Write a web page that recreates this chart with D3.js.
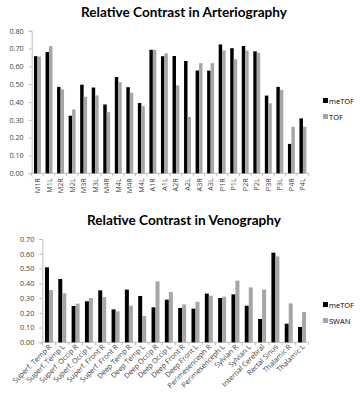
<!DOCTYPE html>
<html>
<head>
<meta charset="utf-8">
<script src="https://cdn.jsdelivr.net/npm/d3@7"></script>
<style>
  body { margin: 0; background: #fff; }
  .chartTitle { font-family: Lato, "Open Sans", sans-serif; font-weight: bold; font-size: 13.6px; fill: #000; }
  .tick text { font-family: "Open Sans", sans-serif; font-size: 7.2px; fill: #404040; }
  .legendText { font-family: "Open Sans", sans-serif; font-size: 7.5px; fill: #000; }
</style>
</head>
<body>
<div id="chart"></div>
<script>
// ---- data ----
const arteryLabels = ["M1R","M1L","M2R","M2L","M3R","M3L","M4R","M4L","M4R","M4L",
    "A1R","A1L","A2R","A2L","A3R","A3L","P1R","P1L","P2R","P2L","P3R","P3L","P4R","P4L"];
const arteryMeTOF = [0.657,0.680,0.485,0.323,0.497,0.481,0.386,0.540,0.483,0.394,
    0.693,0.657,0.658,0.630,0.577,0.576,0.723,0.702,0.714,0.684,0.436,0.485,0.165,0.308];
const arteryTOF = [0.655,0.714,0.471,0.358,0.429,0.437,0.343,0.511,0.452,0.377,
    0.693,0.673,0.493,0.316,0.618,0.618,0.689,0.640,0.689,0.676,0.393,0.468,0.261,0.261];
const arteryTicks = [0,0.1,0.2,0.3,0.4,0.5,0.6,0.7,0.8];

const veinLabels = ["Superf. Temp R","Superf. Temp L","Superf. Occip R","Superf. Occip L",
    "Superf. Front R","Superf. Front R","Deep Temp R","Deep Temp L","Deep Occip R","Deep Occip L",
    "Deep Front R","Deep Front L","Perimesenceph R","Perimesenceph L","Sylvian R","Sylvian L",
    "Internal Cerebral","Rectal Sinus","Thalamic R","Thalamic L"];
const veinMeTOF = [0.508,0.429,0.246,0.278,0.352,0.223,0.357,0.314,0.237,0.289,
    0.233,0.228,0.330,0.300,0.325,0.248,0.158,0.607,0.126,0.104];
const veinSWAN = [0.354,0.332,0.262,0.300,0.307,0.210,0.248,0.178,0.413,0.341,
    0.257,0.275,0.316,0.309,0.418,0.372,0.357,0.582,0.264,0.205];
const veinTicks = [0,0.1,0.2,0.3,0.4,0.5,0.6,0.7];

const colors = {black: "#000000", gray: "#a6a6a6", axis: "#bfbfbf"};

const width = 362;
const height = 400;

const svg = d3.select("#chart")
    .append("svg")
    .attr("width", width)
    .attr("height", height);

function drawChart(opt) {
    const g = svg.append("g");

    const xScale = d3.scaleBand()
        .domain(d3.range(opt.labels.length))
        .range([opt.left, opt.right]);

    const yScale = d3.scaleLinear()
        .domain([0, opt.yMax])
        .range([opt.bottom, opt.top]);

    const bw = xScale.bandwidth();
    const barW = bw * 0.3;
    const offset = (bw - 2 * barW) / 2;

    // title
    g.append("text")
        .attr("class", "chartTitle")
        .attr("x", opt.titleX)
        .attr("y", opt.titleY)
        .attr("text-anchor", "middle")
        .text(opt.title);

    // y axis
    const yAxis = g.append("g")
        .attr("transform", `translate(${opt.left},0)`)
        .call(d3.axisLeft(yScale)
            .tickValues(opt.ticks)
            .tickSize(3)
            .tickPadding(5)
            .tickFormat(d3.format(".2f")));
    yAxis.select(".domain").attr("stroke", colors.axis);
    yAxis.selectAll(".tick line").attr("stroke", colors.axis);

    // x axis (ticks at category boundaries)
    const xAxis = g.append("g")
        .attr("transform", `translate(0,${opt.bottom})`);
    xAxis.append("line")
        .attr("x1", opt.left).attr("x2", opt.right)
        .attr("stroke", colors.axis);
    xAxis.selectAll(".xtick")
        .data(d3.range(opt.labels.length + 1))
        .enter()
        .append("line")
        .attr("x1", i => i < opt.labels.length ? xScale(i) : opt.right)
        .attr("x2", i => i < opt.labels.length ? xScale(i) : opt.right)
        .attr("y1", 0).attr("y2", 3)
        .attr("stroke", colors.axis);

    xAxis.selectAll(".xLabel")
        .data(opt.labels)
        .enter()
        .append("text")
        .attr("class", "xLabel")
        .attr("text-anchor", "end")
        .attr("transform", (d, i) => `translate(${xScale(i) + bw / 2 + opt.labelDx},${opt.labelDy}) rotate(${opt.rotate})`)
        .style("font-family", "'Open Sans', sans-serif")
        .style("font-size", "7.2px")
        .attr("fill", "#404040")
        .text(d => d);

    // bars
    g.selectAll(".barA")
        .data(opt.s1)
        .enter()
        .append("rect")
        .attr("x", (d, i) => xScale(i) + offset)
        .attr("y", d => yScale(d))
        .attr("width", barW)
        .attr("height", d => yScale(0) - yScale(d))
        .attr("fill", colors.black);

    g.selectAll(".barB")
        .data(opt.s2)
        .enter()
        .append("rect")
        .attr("x", (d, i) => xScale(i) + offset + barW)
        .attr("y", d => yScale(d))
        .attr("width", barW)
        .attr("height", d => yScale(0) - yScale(d))
        .attr("fill", colors.gray);

    // legend
    const legend = g.append("g")
        .attr("transform", `translate(${opt.legendX},${opt.legendY})`);
    const items = [{name: opt.names[0], c: colors.black}, {name: opt.names[1], c: colors.gray}];
    legend.selectAll("rect")
        .data(items)
        .enter()
        .append("rect")
        .attr("x", 0)
        .attr("y", (d, i) => i * 16 - 4)
        .attr("width", 5)
        .attr("height", 5)
        .attr("fill", d => d.c);
    legend.selectAll("text")
        .data(items)
        .enter()
        .append("text")
        .attr("class", "legendText")
        .attr("x", 6)
        .attr("y", (d, i) => i * 16 + 1.5)
        .text(d => d.name);
}

drawChart({
    title: "Relative Contrast in Arteriography", titleX: 184, titleY: 17,
    labels: arteryLabels, s1: arteryMeTOF, s2: arteryTOF, ticks: arteryTicks,
    yMax: 0.8, left: 31.7, right: 308.7, top: 30.7, bottom: 173.3,
    labelDx: 2.5, labelDy: 5, rotate: -90,
    legendX: 323, legendY: 102, names: ["meTOF", "TOF"]
});

drawChart({
    title: "Relative Contrast in Venography", titleX: 184, titleY: 225,
    labels: veinLabels, s1: veinMeTOF, s2: veinSWAN, ticks: veinTicks,
    yMax: 0.7, left: 42.3, right: 308.7, top: 239, bottom: 342.3,
    labelDx: 3, labelDy: 5, rotate: -45,
    legendX: 323, legendY: 306, names: ["meTOF", "SWAN"]
});
</script>
</body>
</html>
